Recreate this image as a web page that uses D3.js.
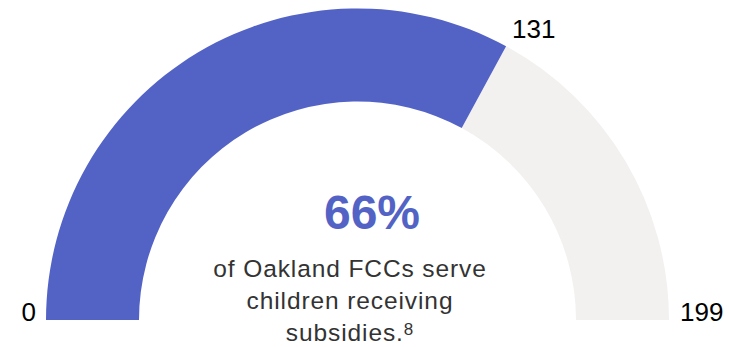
<!DOCTYPE html>
<html>
<head>
<meta charset="utf-8">
<script src="https://cdn.jsdelivr.net/npm/d3@7"></script>
<style>
  body { margin: 0; background: #fff; }
</style>
</head>
<body>
<svg id="chart" width="729" height="347"></svg>
<script>
var total = 199
var served = 131
var minLabel = "0"
var maxLabel = "199"
var pctLabel = "66%"
var captionLines = ["of Oakland FCCs serve", "children receiving", "subsidies."]
var footnote = "8"

var colorFill = '#5363C5'
var colorRest = '#F2F1F0'

var w = 729, h = 347
var cx = 357.5, cy = 320
var rOuter = 311.5, rInner = 218.5

let svg = d3.select('#chart')
let g = svg.append('g').attr('transform', 'translate(' + cx + ',' + cy + ')')

// value -> angle, half circle left to right
let angle = d3.scaleLinear()
  .domain([0, total])
  .range([-Math.PI / 2, Math.PI / 2])

let arc = d3.arc()
  .innerRadius(rInner)
  .outerRadius(rOuter)

// remaining part
g.append('path')
  .attr('d', arc({startAngle: angle(served), endAngle: angle(total)}))
  .attr('fill', colorRest)

// filled part
g.append('path')
  .attr('d', arc({startAngle: angle(0), endAngle: angle(served)}))
  .attr('fill', colorFill)

// end labels
let numFont = "'Liberation Sans', Arial, sans-serif"
g.append('text')
  .attr('x', -rOuter - 10).attr('y', 1)
  .attr('text-anchor', 'end')
  .style('font', '26px ' + numFont)
  .text(minLabel)

g.append('text')
  .attr('x', rOuter + 11).attr('y', 1)
  .attr('text-anchor', 'start')
  .style('font', '26px ' + numFont)
  .text(maxLabel)

// label at the boundary
let a = angle(served)
g.append('text')
  .attr('x', Math.sin(a) * rOuter + 6)
  .attr('y', -Math.cos(a) * rOuter - 8)
  .attr('text-anchor', 'start')
  .style('font', '26px ' + numFont)
  .text(served)

// centre text
svg.append('text')
  .attr('x', 372).attr('y', 229)
  .attr('text-anchor', 'middle')
  .attr('fill', colorFill)
  .style('font', 'bold 48px ' + numFont)
  .text(pctLabel)

let cap = svg.append('text')
  .attr('text-anchor', 'middle')
  .attr('fill', '#333')
  .style('font', '24.5px ' + numFont)
  .style('letter-spacing', '0.9px')

captionLines.forEach(function(line, i) {
  let t = cap.append('tspan')
    .attr('x', 350).attr('y', 277 + i * 32)
    .text(line)
  if (i == captionLines.length - 1) {
    t.append('tspan')
      .attr('dy', -6)
      .style('font-size', '17px')
      .text(footnote)
  }
})
</script>
</body>
</html>
